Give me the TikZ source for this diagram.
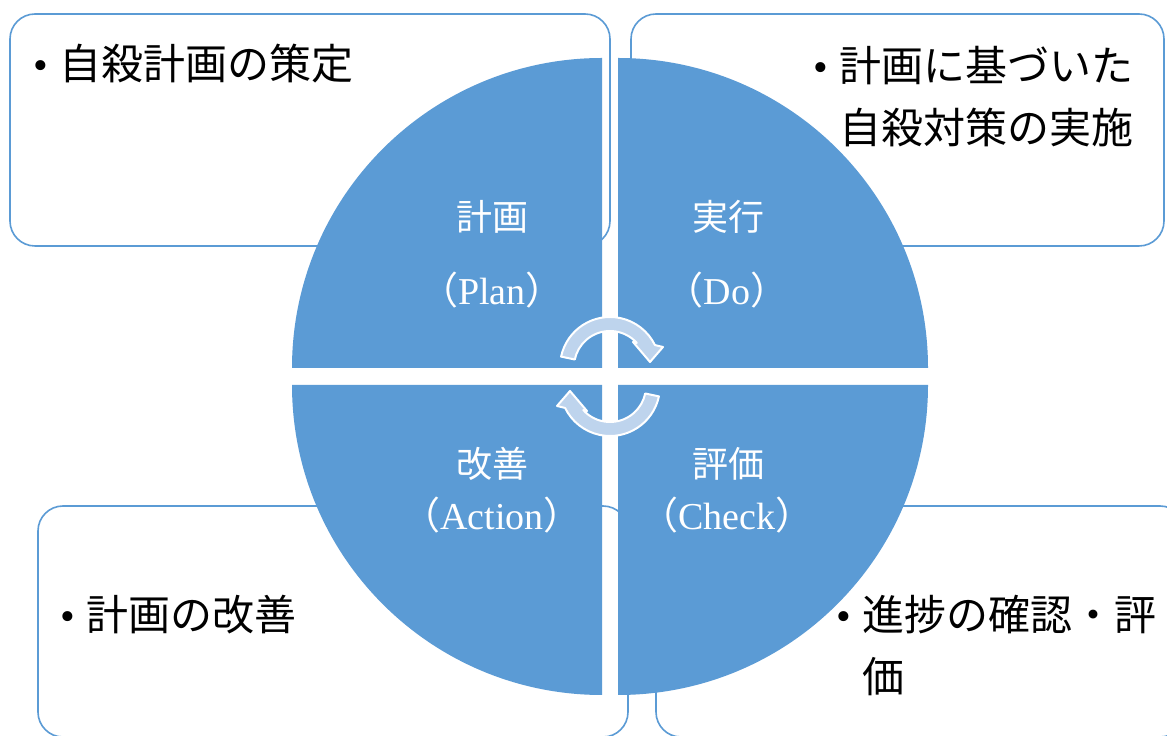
\documentclass[tikz,border=0pt]{standalone}
\usepackage{fontspec}
\setmainfont{Liberation Serif}
\newfontfamily\jp{Noto Sans CJK JP}
\usetikzlibrary{calc}
\definecolor{qblue}{RGB}{91,155,213}
\definecolor{afill}{RGB}{190,212,237}
\newcommand\cycarrowpath{(168:50) arc[start angle=168,end angle=26,radius=50] -- (53,20) -- (40,5) -- (23,25) -- (42:36) arc[start angle=42,end angle=168,radius=36] -- cycle}
\begin{document}
\begin{tikzpicture}[x=1pt,y=1pt,
  box/.style={draw=qblue,line width=1.6pt,fill=white,rounded corners=25pt},
  quad/.style={fill=qblue},
  cyc/.style={fill=afill,draw=white,line width=2pt,line join=round},
  qlab/.style={text=white,inner sep=0pt,anchor=base,font=\jp\fontsize{36}{40}\selectfont},
  qlat/.style={text=white,inner sep=0pt,anchor=base,font=\fontsize{38}{44}\selectfont},
  btext/.style={inner sep=0pt,anchor=base west,font=\fontsize{42}{62}\selectfont}
]
\useasboundingbox (0,0) rectangle (1167,736);
\fill[white] (0,0) rectangle (1167,736);
% boxes
\draw[box] (10,490) rectangle (610,722);
\draw[box] (631,490) rectangle (1164,722);
\draw[box] (38,-1) rectangle (628,230);
\draw[box] (656,-1) rectangle (1185,230);
% quadrants
\fill[quad] (602,368) -- (292,368) arc[start angle=180,end angle=90,radius=310] -- cycle;
\fill[quad] (618,368) -- (618,678) arc[start angle=90,end angle=0,radius=310] -- cycle;
\fill[quad] (602,351) -- (602,41) arc[start angle=270,end angle=180,radius=310] -- cycle;
\fill[quad] (618,351) -- (928,351) arc[start angle=0,end angle=-90,radius=310] -- cycle;
% cycle arrows
\begin{scope}[shift={(610,369)}]
  \path[cyc] \cycarrowpath;
\end{scope}
\begin{scope}[shift={(610,350)},rotate=180]
  \path[cyc] \cycarrowpath;
\end{scope}
% quadrant labels
\node[qlab] (plan) at (492,505) {計画};
\node[qlat] (planen) at (492,431) {{\jp （}Plan{\jp ）}};
\node[qlab] (do) at (728,505) {実行};
\node[qlat] (doen) at (727,431) {{\jp （}Do{\jp ）}};
\node[qlab] (act) at (492,258) {改善};
\node[qlat] (acten) at (492,206) {{\jp （}Action{\jp ）}};
\node[qlab] (chk) at (728,258) {評価};
\node[qlat] (chken) at (727,206) {{\jp （}Check{\jp ）}};
% box texts
\node[btext] (tTL) at (33,656) {\makebox[26pt][l]{•}{\jp 自殺計画の策定}};
\node[btext] (tTR) at (813,654) {\begin{tabular}[t]{@{}l@{}l@{}}\makebox[26pt][l]{•}&{\jp 計画に基づいた}\\&{\jp 自殺対策の実施}\end{tabular}};
\node[btext] (tBL) at (60,105) {\makebox[26pt][l]{•}{\jp 計画の改善}};
\node[btext] (tBR) at (836,105) {\begin{tabular}[t]{@{}l@{}l@{}}\makebox[26pt][l]{•}&{\jp 進捗の確認・評}\\&{\jp 価}\end{tabular}};
\end{tikzpicture}
\end{document}
